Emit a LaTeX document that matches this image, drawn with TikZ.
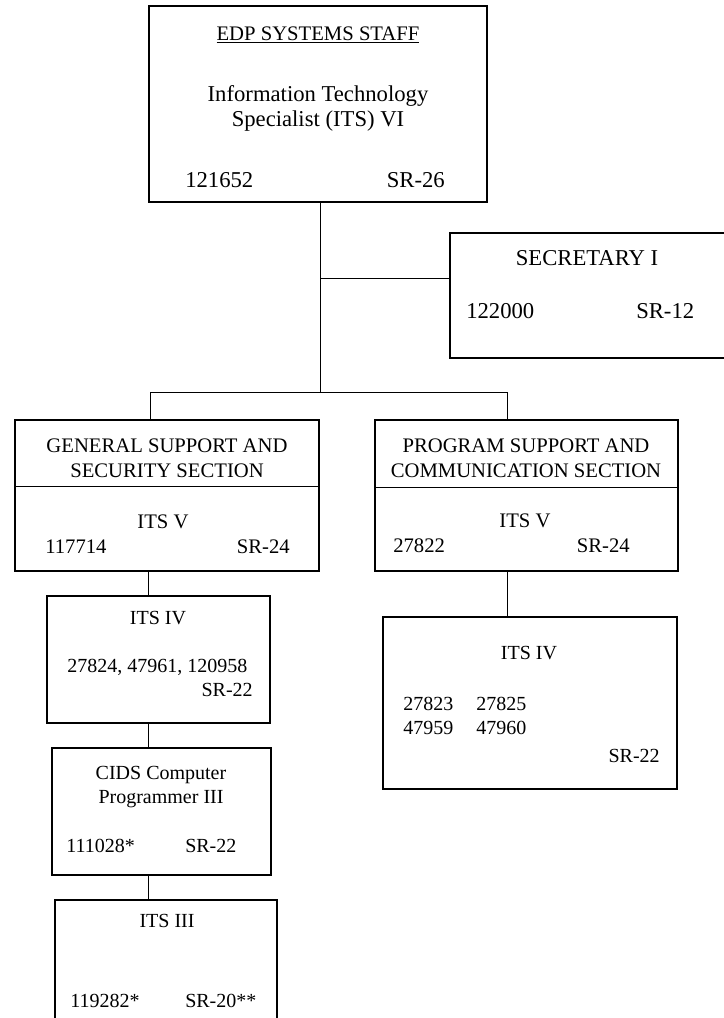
\documentclass[tikz,border=0pt]{standalone}
\usepackage{fontspec}
\setmainfont{Liberation Serif}
\usetikzlibrary{fit}
\tikzset{
  box/.style={draw, line width=0.9pt, inner sep=0pt},
  conn/.style={line width=0.6pt},
  big/.style={font=\fontsize{17}{20}\selectfont, inner sep=0pt},
  med/.style={font=\fontsize{15.5}{18}\selectfont, inner sep=0pt},
  sml/.style={font=\fontsize{15}{18}\selectfont, inner sep=0pt},
}
\begin{document}
\begin{tikzpicture}[x=0.75pt,y=-0.75pt]
\useasboundingbox (0,0) rectangle (724,1018);
\clip (0,0) rectangle (724,1018);
% boxes
\node[box, fit={(149,6) (487,202)}] (top) {};
\node[box, fit={(450,233) (740,358)}] (sec) {};
\node[box, fit={(15,420) (319,571)}] (gss) {};
\node[box, fit={(375,420) (678,571)}] (pcs) {};
\node[box, fit={(47,596) (270,723)}] (its4l) {};
\node[box, fit={(383,617) (677,789)}] (its4r) {};
\node[box, fit={(52,748) (271,875)}] (cids) {};
\node[box, fit={(55,900) (277,1040)}] (its3) {};
% dividers
\draw[conn] (gss.west |- 0,486) -- (gss.east |- 0,486);
\draw[conn] (pcs.west |- 0,487) -- (pcs.east |- 0,487);
% connector coordinates
\coordinate (j1) at (320,278);
\coordinate (bus) at (320,392);
\coordinate (bl) at (150,392);
\coordinate (br) at (507,392);
\coordinate (cl) at (148,0);
\draw[conn] (top.south -| bus) -- (bus);
\draw[conn] (j1) -- (j1 -| sec.west);
\draw[conn] (bl |- gss.north) -- (bl) -- (br) -- (br |- pcs.north);
\draw[conn] (br |- pcs.south) -- (br |- its4r.north);
\draw[conn] (cl |- gss.south) -- (cl |- its4l.north);
\draw[conn] (cl |- its4l.south) -- (cl |- cids.north);
\draw[conn] (cl |- cids.south) -- (cl |- its3.north);
% top box text
\node[med, anchor=base] (t1) at (318,40) {\underline{EDP SYSTEMS STAFF}};
\node[big, anchor=base] (t2) at (318,101) {Information Technology};
\node[big, anchor=base] (t3) at (318,126) {Specialist (ITS) VI};
\node[big, anchor=base west] (t4) at (185,187) {121652};
\node[big, anchor=base east] (t5) at (445,187) {SR-26};
% secretary
\node[big, anchor=base] (s1) at (587,265) {SECRETARY I};
\node[big, anchor=base west] (s2) at (466,318) {122000};
\node[big, anchor=base west] (s3) at (636,318) {SR-12};
% general support
\node[med, anchor=base] (g1) at (167,452) {GENERAL SUPPORT AND};
\node[med, anchor=base] (g2) at (167,477) {SECURITY SECTION};
\node[med, anchor=base] (g3) at (163,528) {ITS V};
\node[med, anchor=base west] (g4) at (45,553) {117714};
\node[med, anchor=base east] (g5) at (290,553) {SR-24};
% program support
\node[med, anchor=base] (p1) at (526,452) {PROGRAM SUPPORT AND};
\node[med, anchor=base] (p2) at (526,477) {COMMUNICATION SECTION};
\node[med, anchor=base] (p3) at (525,527) {ITS V};
\node[med, anchor=base west] (p4) at (393,552) {27822};
\node[med, anchor=base east] (p5) at (630,552) {SR-24};
% left ITS IV
\node[sml, anchor=base] (a1) at (158,624) {ITS IV};
\node[sml, anchor=base west] (a2) at (67,672) {27824, 47961, 120958};
\node[sml, anchor=base east] (a3) at (253,696) {SR-22};
% CIDS
\node[sml, anchor=base] (c1) at (161,779) {CIDS Computer};
\node[sml, anchor=base] (c2) at (161,803) {Programmer III};
\node[sml, anchor=base west] (c3) at (66,852) {111028*};
\node[sml, anchor=base west] (c4) at (185,852) {SR-22};
% ITS III
\node[sml, anchor=base] (d1) at (167,927) {ITS III};
\node[sml, anchor=base west] (d2) at (70,1007) {119282*};
\node[sml, anchor=base west] (d3) at (185,1007) {SR-20**};
% right ITS IV
\node[sml, anchor=base] (r1) at (529,659) {ITS IV};
\node[sml, anchor=base west] (r2) at (403,710) {27823};
\node[sml, anchor=base west] (r3) at (476,710) {27825};
\node[sml, anchor=base west] (r4) at (403,734) {47959};
\node[sml, anchor=base west] (r5) at (476,734) {47960};
\node[sml, anchor=base east] (r6) at (660,762) {SR-22};
\end{tikzpicture}
\end{document}
